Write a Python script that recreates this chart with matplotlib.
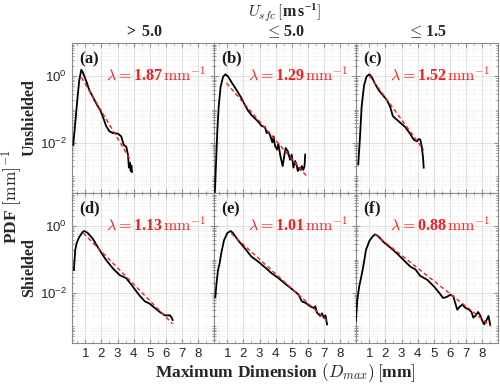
import numpy as np
import matplotlib
matplotlib.use('Agg')
import matplotlib.pyplot as plt
from matplotlib.ticker import FixedLocator, NullFormatter, FixedFormatter

plt.rcParams['mathtext.fontset'] = 'custom'
plt.rcParams['mathtext.rm'] = 'cmr10'
plt.rcParams['mathtext.it'] = 'cmmi10'
plt.rcParams['mathtext.bf'] = 'Liberation Serif:bold'
plt.rcParams['mathtext.sf'] = 'Liberation Sans'
plt.rcParams['mathtext.fallback'] = 'cm'
plt.rcParams['font.family'] = ['DejaVu Serif']

# ---------------- data ----------------
panel_labels = ['(a)', '(b)', '(c)', '(d)', '(e)', '(f)']
col_titles = [r'$\mathbf{>\,5.0}$', r'$\leq\mathbf{5.0}$', r'$\leq\mathbf{1.5}$']
row_titles = ['Unshielded', 'Shielded']

# D (mm) and log10(PDF) of each empirical curve
D_a = [0.25, 0.37, 0.50, 0.62, 0.75, 0.83, 1.04, 1.25, 1.46, 1.67, 1.92, 2.09, 2.29, 2.50, 2.71,
       3.03, 3.23, 3.38, 3.55, 3.65, 3.71, 3.77, 3.82, 3.86, 3.90]
L_a = [-2.05, -1.41, -0.71, -0.12, 0.20, 0.13, -0.12, -0.42, -0.61, -0.81, -1.01, -1.21, -1.49, -1.65, -1.70,
       -1.72, -1.80, -2.05, -2.12, -2.35, -2.74, -2.59, -2.84, -2.67, -2.87]

D_b = [0.21, 0.29, 0.37, 0.46, 0.58, 0.73, 0.87, 1.04, 1.25, 1.56, 1.88, 2.09, 2.29, 2.50, 2.71, 2.92,
       3.13, 3.34, 3.44, 3.59, 3.71, 3.80, 3.88, 3.96, 4.09, 4.17, 4.28, 4.44, 4.55, 4.63, 4.76, 4.90,
       5.00, 5.11, 5.22, 5.32, 5.38, 5.47, 5.55, 5.63, 5.72, 5.80, 5.84]
L_b = [-3.6, -2.69, -1.70, -0.91, -0.32, -0.02, 0.06, 0.00, -0.17, -0.40, -0.66, -0.86, -1.03, -1.16, -1.26, -1.36,
       -1.49, -1.52, -1.70, -1.68, -1.85, -1.98, -1.80, -2.08, -2.20, -2.02, -2.35, -2.69, -2.35, -2.15, -2.25, -2.50,
       -2.35, -2.74, -2.54, -2.69, -2.84, -2.74, -2.81, -2.69, -2.81, -2.69, -2.35]

D_c = [0.31, 0.42, 0.52, 0.67, 0.83, 1.00, 1.15, 1.35, 1.56, 1.88, 2.09, 2.29, 2.46, 2.61, 2.92,
       3.23, 3.50, 3.76, 3.96, 4.07, 4.17, 4.26, 4.34, 4.38]
L_c = [-2.64, -1.80, -0.91, -0.27, 0.00, 0.06, -0.02, -0.22, -0.40, -0.59, -0.71, -0.91, -1.19, -1.26, -1.39,
       -1.52, -1.70, -1.90, -1.95, -1.88, -1.90, -2.10, -2.45, -2.74]

D_d = [0.29, 0.37, 0.46, 0.62, 0.83, 0.94, 1.15, 1.46, 1.88, 2.29, 2.71, 3.13, 3.55, 3.86, 4.17,
       4.38, 4.70, 5.00, 5.32, 5.63, 5.94, 6.26, 6.37, 6.43]
L_d = [-1.31, -0.71, -0.50, -0.32, -0.17, -0.14, -0.20, -0.37, -0.71, -1.01, -1.26, -1.46, -1.56, -1.75, -1.95,
       -2.08, -2.25, -2.32, -2.45, -2.57, -2.67, -2.67, -2.74, -2.81]

D_e = [0.25, 0.33, 0.42, 0.52, 0.62, 0.79, 1.00, 1.21, 1.35, 1.67, 2.09, 2.50, 2.92, 3.34, 3.76,
       4.17, 4.59, 5.01, 5.43, 5.63, 5.88, 6.15, 6.37, 6.47, 6.57, 6.68, 6.78, 6.89, 6.99, 7.10, 7.20]
L_e = [-2.12, -1.70, -1.31, -1.11, -0.81, -0.42, -0.20, -0.14, -0.20, -0.42, -0.66, -0.91, -1.06, -1.23, -1.41,
       -1.55, -1.72, -1.88, -2.05, -2.25, -2.30, -2.40, -2.45, -2.40, -2.59, -2.64, -2.69, -2.61, -2.74, -2.67, -2.94]

D_f = [0.16, 0.25, 0.37, 0.52, 0.62, 0.79, 1.00, 1.21, 1.35, 1.56, 1.88, 2.29, 2.71, 3.13, 3.55,
       3.86, 4.17, 4.59, 5.01, 5.32, 5.59, 5.80, 6.05, 6.22, 6.37, 6.47, 6.64, 6.78, 6.99, 7.20,
       7.35, 7.47, 7.62, 7.76, 7.89, 8.03, 8.14, 8.31, 8.41, 8.51]
L_f = [-2.84, -2.20, -1.80, -1.46, -1.21, -0.71, -0.44, -0.30, -0.24, -0.30, -0.47, -0.63, -0.81, -1.01, -1.21,
       -1.29, -1.49, -1.60, -1.80, -1.98, -2.15, -2.12, -2.05, -2.10, -2.35, -2.50, -2.40, -2.35, -2.45, -2.50,
       -2.57, -2.74, -2.67, -2.57, -2.67, -2.84, -2.94, -2.79, -2.69, -2.94]

curves_D = [D_a, D_b, D_c, D_d, D_e, D_f]
curves_L = [L_a, L_b, L_c, L_d, L_e, L_f]

# exponential fits: slope lambda (mm^-1), start D, log10 PDF at start, end D
fit_lambda = [1.87, 1.29, 1.52, 1.13, 1.01, 0.88]
fit_D0 = [0.75, 0.94, 1.00, 0.87, 1.25, 1.35]
fit_L0 = [-0.03, -0.20, 0.02, -0.20, -0.22, -0.24]
fit_D1 = [3.80, 5.95, 4.38, 6.43, 7.20, 8.56]

x_ticks = [1, 2, 3, 4, 5, 6, 7, 8]
x_tick_labels = [str(v) for v in x_ticks]
y_ticks = [1e-2, 1e0]
y_tick_labels = [r'$\mathsf{10^{-2}}$', r'$\mathsf{10^{0}}$']

# ---------------- figure ----------------
W, H = 500, 386
fig = plt.figure(figsize=(W / 100, H / 100), dpi=100)

x0, x1 = 72, 498
y0, rowh = 43, 150
colw = (x1 - x0) / 3

spine_c = '#8a8a8a'
axes = []
for r in range(2):
    for c in range(3):
        ax = fig.add_axes([(x0 + c * colw) / W, 1 - (y0 + (r + 1) * rowh) / H, colw / W, rowh / H])
        axes.append(ax)
        i = r * 3 + c
        ax.set_yscale('log')
        ax.set_xlim(0.17, 9.0)
        ax.set_ylim(10 ** -3.5, 10 ** 1)

        # grid
        ax.xaxis.set_major_locator(FixedLocator(x_ticks))
        ax.xaxis.set_minor_locator(FixedLocator(np.arange(0.5, 9.0, 0.5)))
        ax.yaxis.set_major_locator(FixedLocator(y_ticks))
        minors = [m * 10.0 ** e for e in range(-4, 2) for m in range(1, 10)]
        ax.yaxis.set_minor_locator(FixedLocator(minors))
        ax.yaxis.set_minor_formatter(NullFormatter())
        ax.grid(True, which='major', color='#dcdcdc', lw=0.6, ls='-')
        ax.grid(True, which='minor', color='#e4e4e4', lw=0.5, ls=':')
        ax.set_axisbelow(True)

        ax.tick_params(which='both', direction='in', top=True, right=True,
                       colors=spine_c, labelcolor='#262626', labelsize=9.5)
        ax.tick_params(which='major', length=3)
        ax.tick_params(which='minor', length=1.5)
        for s in ax.spines.values():
            s.set_color(spine_c)
            s.set_linewidth(0.8)

        if r == 1:
            ax.xaxis.set_major_formatter(FixedFormatter(x_tick_labels))
            for t in ax.get_xticklabels():
                t.set_fontfamily(['Liberation Sans', 'DejaVu Sans'])
        else:
            ax.xaxis.set_major_formatter(NullFormatter())
        if c == 0:
            ax.yaxis.set_major_formatter(FixedFormatter(y_tick_labels))
        else:
            ax.yaxis.set_major_formatter(NullFormatter())

        # data curve
        ax.plot(curves_D[i], 10 ** np.array(curves_L[i]), color='black', lw=1.3, zorder=3)
        # exponential fit
        Df = np.linspace(fit_D0[i], fit_D1[i], 50)
        ax.plot(Df, 10 ** fit_L0[i] * np.exp(-fit_lambda[i] * (Df - fit_D0[i])),
                color='#ff1a1a', lw=1.0, ls=(0, (3, 2)), zorder=4)

        ax.text(0.05, 0.893, r'$\mathbf{%s}$' % panel_labels[i], transform=ax.transAxes,
                ha='left', va='center', fontsize=12, color='#1a1a1a')
        ax.text(0.945, 0.787, r'$\lambda = \mathbf{%.2f}\,\mathrm{mm}^{-1}$' % fit_lambda[i],
                transform=ax.transAxes, ha='right', va='center', fontsize=11.5, color='#ff1a1a')

# column titles
for c in range(3):
    fig.text((x0 + (c + 0.5) * colw) / W, 1 - 32 / H, col_titles[c],
             ha='center', va='center', fontsize=11.5, color='#262626')
fig.text((x0 + 1.5 * colw) / W, 1 - 12 / H, r'$U_{sfc}\,[\mathbf{m\,s^{-1}}]$',
         ha='center', va='center', fontsize=11.5, color='#262626')

# row titles
for r in range(2):
    fig.text(29 / W, 1 - (y0 + (r + 0.5) * rowh) / H, r'$\mathbf{%s}$' % row_titles[r],
             ha='center', va='center', rotation=90, fontsize=11.5, color='#262626')
fig.text(12 / W, 1 - 197 / H, r'$\mathbf{PDF}\ [\mathrm{mm}]^{-1}$',
         ha='center', va='center', rotation=90, fontsize=12.5, color='#262626')

fig.text((x0 + 1.5 * colw) / W, 1 - 373 / H,
         r'$\mathbf{Maximum\ Dimension}\ (D_{max})\,[\mathbf{mm}]$',
         ha='center', va='center', fontsize=12.5, color='#262626')

fig.savefig('out.png', dpi=100)
